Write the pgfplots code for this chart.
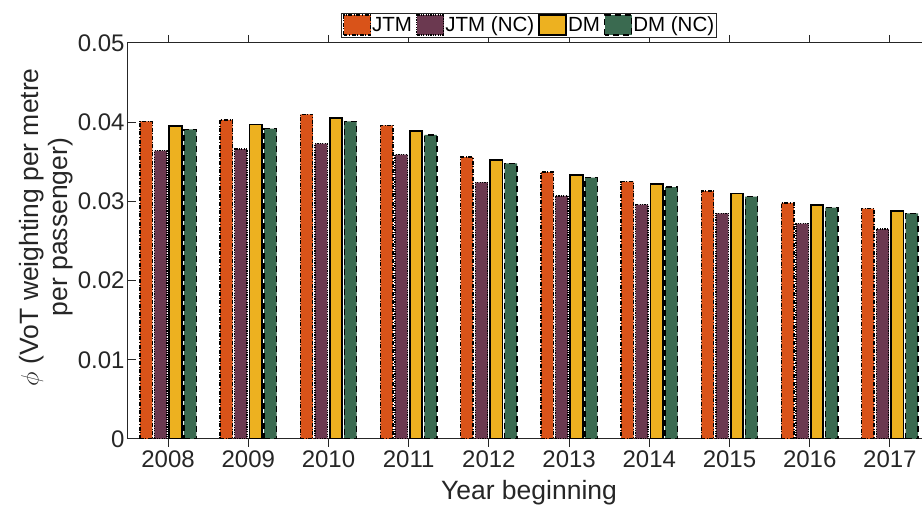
\documentclass[border=0pt]{standalone}
\usepackage{pgfplots}
\pgfplotsset{compat=1.18}
\usepackage{fontspec}
\setmainfont{Liberation Sans}
\definecolor{cJTM}{RGB}{217,83,25}
\definecolor{cJTMNC}{RGB}{107,57,80}
\definecolor{cDM}{RGB}{237,177,32}
\definecolor{cDMNC}{RGB}{58,106,80}
\definecolor{axc}{RGB}{38,38,38}
\pgfplotstableread{
x JTM JTMNC DM DMNC
0 0.0401 0.0364 0.0395 0.0391
1 0.0403 0.0366 0.0397 0.0392
2 0.0410 0.0373 0.0405 0.0401
3 0.0396 0.0359 0.0389 0.0384
4 0.0356 0.0324 0.0352 0.0348
5 0.0337 0.0307 0.0333 0.0330
6 0.0325 0.0296 0.0322 0.0318
7 0.0313 0.0285 0.0310 0.0306
8 0.0298 0.0272 0.0295 0.0292
9 0.0291 0.0265 0.0288 0.0285
}\datatable
\begin{document}
\begin{tikzpicture}
\path[use as bounding box, clip] (0,0) rectangle (922pt,511pt);
\begin{axis}[
  at={(128pt,72pt)}, anchor=south west,
  scale only axis, width=802pt, height=396pt,
  xmin=-0.5, xmax=9.5, ymin=0, ymax=0.05,
  scaled y ticks=false,
  xtick={0,...,9},
  xticklabels={2008,2009,2010,2011,2012,2013,2014,2015,2016,2017},
  ytick={0,0.01,0.02,0.03,0.04,0.05},
  yticklabels={0,0.01,0.02,0.03,0.04,0.05},
  tick align=inside, major tick length=8pt,
  axis line style={axc, line width=1pt},
  every tick/.style={axc, line width=1pt},
  tick label style={font=\fontsize{24}{27}\selectfont, text=axc},
  label style={font=\fontsize{26.5}{29}\selectfont, text=axc},
  /pgf/number format/assume math mode=true,
  xlabel={Year beginning},
  ylabel={$\phi$ (VoT weighting per metre\\per passenger)},
  ylabel style={align=center, at={(ticklabel cs:0.535)}, anchor=near ticklabel, yshift=-2pt},
  xlabel style={yshift=-6pt},
  ybar, bar width=0.156,
  legend columns=4,
  legend style={at={(0.5,1)}, anchor=south, yshift=6pt,
    font=\fontsize{20.5}{23}\selectfont, draw=axc, line width=0.8pt,
    inner sep=1pt, outer sep=0pt,
    /tikz/every even column/.append style={column sep=3pt},
    nodes={inner sep=1pt}},
  legend image code/.code={\draw[#1] (0pt,-10pt) rectangle (27pt,10pt);},
]
\addplot[fill=cJTM, draw=black, line width=1.4pt, dash pattern=on 4pt off 1.6pt on 1pt off 1.6pt, bar shift=-0.274] table[x=x,y=JTM]{\datatable};
\addplot[fill=cJTMNC, draw=black, line width=1.4pt, dash pattern=on 1.2pt off 1.2pt, bar shift=-0.092] table[x=x,y=JTMNC]{\datatable};
\addplot[fill=cDM, draw=black, line width=1.8pt, bar shift=0.092] table[x=x,y=DM]{\datatable};
\addplot[fill=cDMNC, draw=black, line width=1.4pt, dash pattern=on 6pt off 4pt, bar shift=0.274] table[x=x,y=DMNC]{\datatable};
\legend{JTM,JTM (NC),DM,DM (NC)}
\end{axis}
\end{tikzpicture}
\end{document}
